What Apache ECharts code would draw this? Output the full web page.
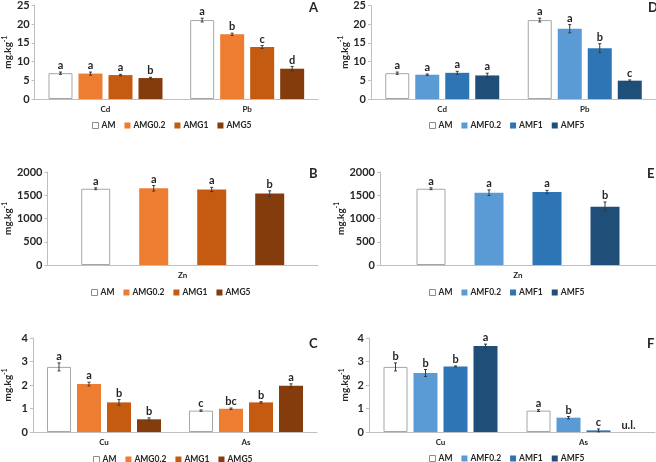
<!DOCTYPE html>
<html><head><meta charset="utf-8">
<script src="https://cdn.jsdelivr.net/npm/echarts@6/dist/echarts.min.js"></script>
<style>html,body{margin:0;padding:0;background:#fff}#c{width:656px;height:462px}</style>
</head><body><div id="c"></div>
<script>
// ---- data ----
const catsCdPb = ['Cd', 'Pb'];
const catsZn = ['Zn'];
const catsCuAs = ['Cu', 'As'];
const namesG = ['AM', 'AMG0.2', 'AMG1', 'AMG5'];
const namesF = ['AM', 'AMF0.2', 'AMF1', 'AMF5'];

// Panel A (AMG, Cd/Pb)
const valsA = [[6.9, 21.1], [6.8, 17.3], [6.4, 13.9], [5.6, 8.1]];
const errsA = [[0.3, 0.5], [0.4, 0.3], [0.2, 0.4], [0.2, 0.6]];
const letsA = [['a', 'a'], ['a', 'b'], ['a', 'c'], ['b', 'd']];
// Panel D (AMF, Cd/Pb)
const valsD = [[6.9, 21.1], [6.5, 18.8], [7.0, 13.6], [6.3, 4.9]];
const errsD = [[0.3, 0.5], [0.2, 1.1], [0.4, 1.2], [0.6, 0.2]];
const letsD = [['a', 'a'], ['a', 'a'], ['a', 'b'], ['a', 'c']];
// Panel B (AMG, Zn)
const valsB = [[1640], [1650], [1625], [1535]];
const errsB = [[20], [60], [45], [60]];
const letsB = [['a'], ['a'], ['a'], ['b']];
// Panel E (AMF, Zn)
const valsE = [[1640], [1555], [1570], [1255]];
const errsE = [[20], [60], [35], [100]];
const letsE = [['a'], ['a'], ['a'], ['b']];
// Panel C (AMG, Cu/As)
const valsC = [[2.77, 0.91], [2.04, 0.99], [1.26, 1.26], [0.54, 1.97]];
const errsC = [[0.17, 0.03], [0.08, 0.03], [0.12, 0.03], [0.06, 0.08]];
const letsC = [['a', 'c'], ['a', 'bc'], ['b', 'b'], ['b', 'a']];
// Panel F (AMF, Cu/As)
const valsF = [[2.77, 0.91], [2.51, 0.61], [2.79, 0.07], [3.66, 0]];
const errsF = [[0.17, 0.04], [0.15, 0.05], [0.02, 0.06], [0.08, 0]];
const letsF = [['b', 'a'], ['b', 'b'], ['b', 'c'], ['a', 'u.l.']];

const yMaxes = {A: 25, D: 25, B: 2000, E: 2000, C: 4, F: 4};
const yIntervals = {A: 5, D: 5, B: 500, E: 500, C: 1, F: 1};

// ---- styles ----
const FONT = 'Lato, "Open Sans", sans-serif';
const colorsG = ['#ffffff', '#ED7D31', '#C55A11', '#843C0C'];
const colorsF = ['#ffffff', '#5B9BD5', '#2E75B6', '#1F4E79'];
const axisColor = '#bfbfbf';

const panels = [
  {id: 'A', cats: catsCdPb, names: namesG, colors: colorsG, vals: valsA, errs: errsA, lets: letsA,
   grid: {left: 33, top: 4, width: 285, height: 95}, bw: 24, gap: '25%', pitch: 30, nameGap: 20,
   legend: {left: 92, top: 121}, title: {left: 309, top: 1}},
  {id: 'D', cats: catsCdPb, names: namesF, colors: colorsF, vals: valsD, errs: errsD, lets: letsD,
   grid: {left: 371, top: 4, width: 285, height: 95}, bw: 24, gap: '25%', pitch: 30, nameGap: 21,
   legend: {left: 429, top: 121}, title: {left: 648, top: 1}},
  {id: 'B', cats: catsZn, names: namesG, colors: colorsG, vals: valsB, errs: errsB, lets: letsB,
   grid: {left: 46, top: 172, width: 272, height: 93}, bw: 29, gap: '100%', pitch: 58, nameGap: 34,
   legend: {left: 91, top: 288}, title: {left: 309, top: 167}},
  {id: 'E', cats: catsZn, names: namesF, colors: colorsF, vals: valsE, errs: errsE, lets: letsE,
   grid: {left: 380, top: 172, width: 278, height: 93}, bw: 29, gap: '100%', pitch: 58, nameGap: 30,
   legend: {left: 429, top: 288}, title: {left: 647, top: 167}},
  {id: 'C', cats: catsCuAs, names: namesG, colors: colorsG, vals: valsC, errs: errsC, lets: letsC,
   grid: {left: 32, top: 338, width: 285, height: 94}, bw: 24, gap: '25%', pitch: 30, nameGap: 20,
   legend: {left: 93, top: 455}, title: {left: 309, top: 337}},
  {id: 'F', cats: catsCuAs, names: namesF, colors: colorsF, vals: valsF, errs: errsF, lets: letsF,
   grid: {left: 369, top: 338, width: 286, height: 94}, bw: 24, gap: '25%', pitch: 30, nameGap: 19,
   legend: {left: 429, top: 454}, title: {left: 647, top: 337}}
];

const option = {
  animation: false,
  backgroundColor: '#fff',
  textStyle: {fontFamily: FONT},
  grid: [], xAxis: [], yAxis: [], series: [], legend: [], title: []
};

function errRender(i, pitch, lets) {
  return function (params, api) {
    const c = api.value(0), v = api.value(1), e = api.value(2);
    const pt = api.coord([c, v + e]);
    const pb = api.coord([c, v - e]);
    const x = pt[0] + (i - 1.5) * pitch;
    const children = [];
    if (e > 0) {
      const lw = {stroke: '#3a3a3a', lineWidth: 1};
      children.push({type: 'line', shape: {x1: x, y1: pt[1], x2: x, y2: pb[1]}, style: lw});
      children.push({type: 'line', shape: {x1: x - 1.5, y1: pt[1], x2: x + 1.5, y2: pt[1]}, style: lw});
      children.push({type: 'line', shape: {x1: x - 1.5, y1: pb[1], x2: x + 1.5, y2: pb[1]}, style: lw});
    }
    children.push({type: 'text', style: {
      text: lets[i][params.dataIndex], x: x, y: pt[1] - 1,
      align: 'center', verticalAlign: 'bottom',
      font: 'bold 11px ' + FONT, fill: '#262626'}});
    return {type: 'group', children: children};
  };
}

panels.forEach(function (p, gi) {
  option.grid.push(Object.assign({containLabel: false}, p.grid));
  option.xAxis.push({
    type: 'category', gridIndex: gi, data: p.cats,
    axisLine: {lineStyle: {color: axisColor, width: 1}},
    axisTick: {show: false},
    axisLabel: {color: '#262626', fontSize: 8, fontWeight: 'bold', margin: 6, fontFamily: FONT}
  });
  option.yAxis.push({
    type: 'value', gridIndex: gi, min: 0, max: yMaxes[p.id], interval: yIntervals[p.id],
    splitLine: {show: false},
    axisLine: {show: true, lineStyle: {color: axisColor, width: 1}},
    axisTick: {show: true, length: 3, lineStyle: {color: axisColor}},
    axisLabel: {color: '#262626', fontSize: 11, fontWeight: 'bold', margin: 5, fontFamily: FONT,
                formatter: function (v) { return String(v); }},
    name: '{a|mg.kg}{s|-1}', nameLocation: 'middle', nameGap: p.nameGap, nameRotate: 90,
    nameTextStyle: {rich: {
      a: {fontSize: 10, fontWeight: 'bold', color: '#262626', fontFamily: FONT, verticalAlign: 'bottom', lineHeight: 12},
      s: {fontSize: 6.5, fontWeight: 'bold', color: '#262626', fontFamily: FONT, verticalAlign: 'top', lineHeight: 12, padding: [0, 0, 5, 0]}
    }}
  });
  p.names.forEach(function (nm, i) {
    option.series.push({
      type: 'bar', name: nm, xAxisIndex: gi, yAxisIndex: gi,
      data: p.vals[i], barWidth: p.bw, barGap: p.gap,
      itemStyle: i === 0 ? {color: '#ffffff', borderColor: '#a6a6a6', borderWidth: 1}
                         : {color: p.colors[i]},
      z: 2
    });
    option.series.push({
      type: 'custom', name: 'err' + p.id + i, xAxisIndex: gi, yAxisIndex: gi,
      data: p.vals[i].map(function (v, k) { return [k, v, p.errs[i][k]]; }),
      encode: {x: 0, y: 1},
      renderItem: errRender(i, p.pitch, p.lets),
      clip: false, z: 3, silent: true
    });
  });
  option.legend.push({
    data: p.names.map(function (nm, i) {
      return {name: nm, itemStyle: i === 0 ? {color: '#fff', borderColor: '#8c8c8c', borderWidth: 1} : {color: p.colors[i]}};
    }),
    left: p.legend.left, top: p.legend.top, orient: 'horizontal', padding: 0,
    icon: 'rect', itemWidth: 6, itemHeight: 6, itemGap: 9,
    textStyle: {fontSize: 8.5, fontWeight: 'bold', color: '#262626', fontFamily: FONT, padding: [0, 0, 0, -2]},
    selectedMode: false
  });
  option.title.push({
    text: p.id, left: p.title.left, top: p.title.top, padding: 0,
    textStyle: {fontSize: 13, fontWeight: 'bold', color: '#262626', fontFamily: FONT}
  });
});

const chart = echarts.init(document.getElementById('c'), null, {renderer: 'canvas'});
chart.setOption(option);
</script>
</body></html>
